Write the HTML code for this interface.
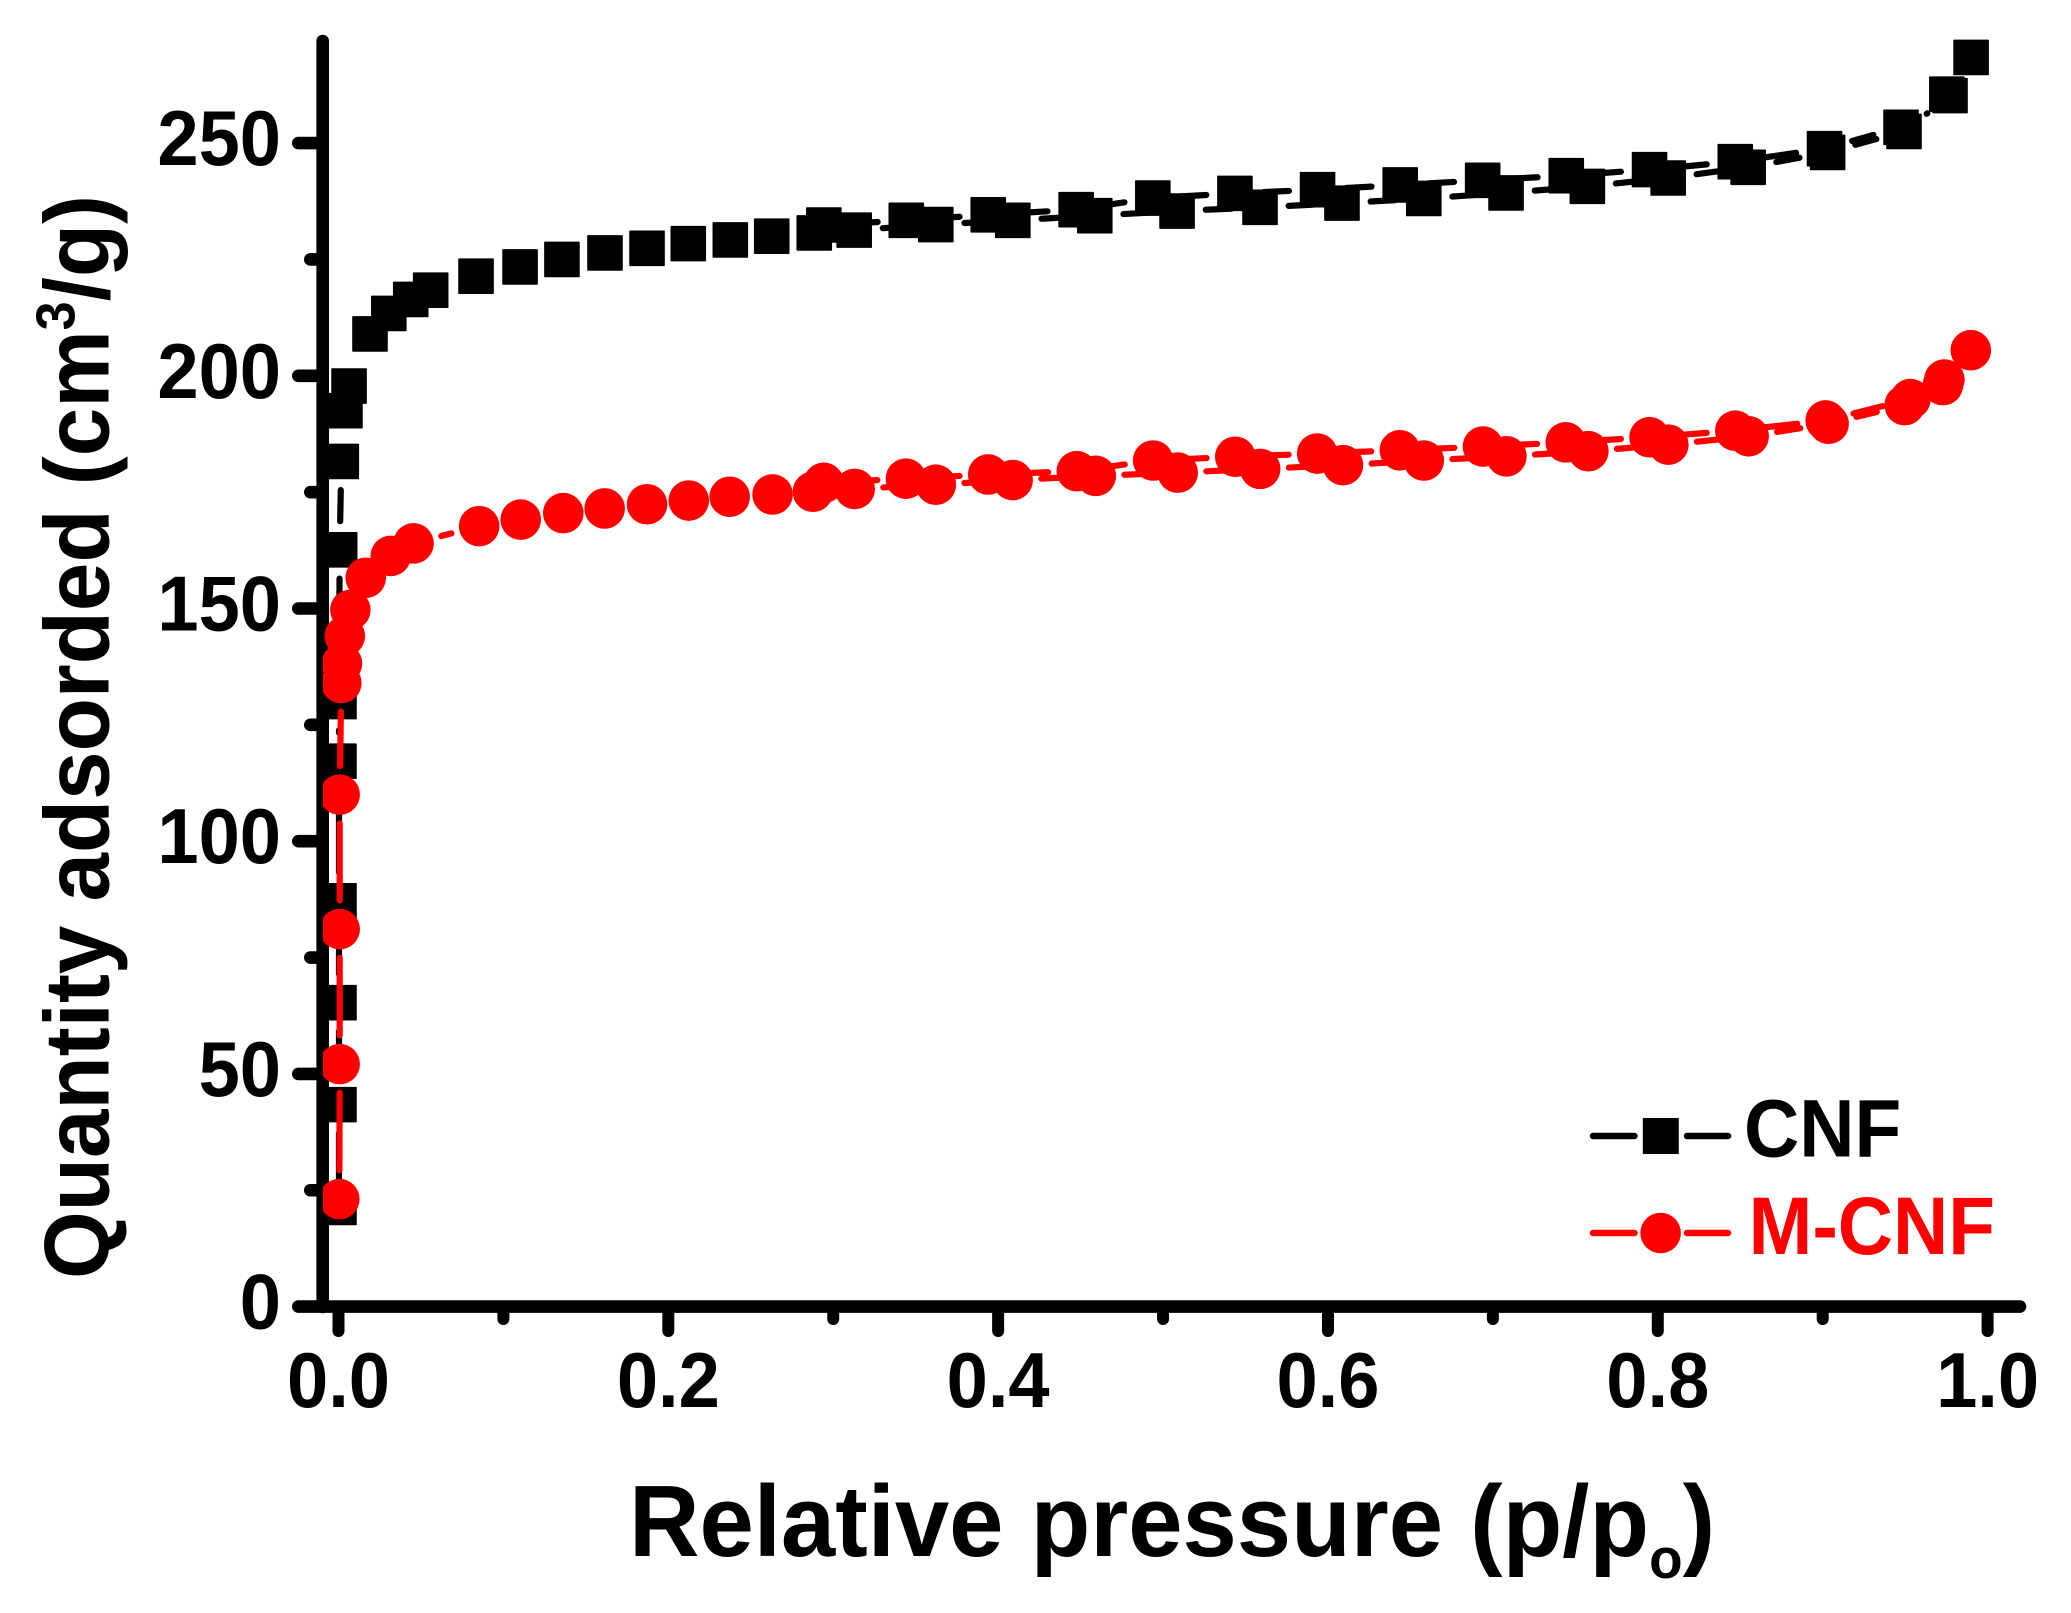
<!DOCTYPE html>
<html lang="en">
<head>
<meta charset="utf-8">
<title>Nitrogen adsorption isotherms of CNF and M-CNF</title>
<style>
  html, body { margin: 0; padding: 0; background: #fff; }
  svg { display: block; }
  text { font-family: "Liberation Sans", Arial, sans-serif; font-weight: bold; }
</style>
</head>
<body>
<svg id="chart" xmlns="http://www.w3.org/2000/svg" width="2071" height="1613" viewBox="0 0 2071 1613">
  <defs>
    <clipPath id="plot-clip"><rect x="323" y="0" width="1748" height="1400"></rect></clipPath>
  </defs>
  <rect x="0" y="0" width="2071" height="1613" fill="#fff"></rect>

  <g id="axes"></g>
  <g id="series" clip-path="url(#plot-clip)"></g>

  <text transform="translate(629 1556) scale(0.962 1)" x="0" y="0" font-size="101.5" fill="#000">Relative pressure (p/p<tspan font-size="57" dy="22">o</tspan><tspan dy="-22">)</tspan></text>

  <text transform="translate(108.5 1279) rotate(-90) scale(0.947 1)" x="0" y="0" font-size="92" fill="#000">Quantity adsorded (cm<tspan font-size="55" dy="-34">3</tspan><tspan dy="34">/g)</tspan></text>

  <g>
    <g>
      <line x1="1593" y1="1136" x2="1634.5" y2="1136" stroke="#000" stroke-width="6.5" stroke-linecap="round"></line>
      <rect x="1642.8" y="1118" width="36" height="36" fill="#000"></rect>
      <line x1="1687" y1="1136" x2="1728" y2="1136" stroke="#000" stroke-width="6.5" stroke-linecap="round"></line>
      <text transform="translate(1744 1156.5) scale(0.94 1)" x="0" y="0" font-size="81.4" fill="#000">CNF</text>
    </g>
    <g>
      <line x1="1593" y1="1233" x2="1634.5" y2="1233" stroke="#f00" stroke-width="6.5" stroke-linecap="round"></line>
      <circle cx="1660.6" cy="1233" r="20.3" fill="#f00"></circle>
      <line x1="1687" y1="1233" x2="1728" y2="1233" stroke="#f00" stroke-width="6.5" stroke-linecap="round"></line>
      <text transform="translate(1748.6 1254) scale(0.94 1)" x="0" y="0" font-size="81.4" fill="#f00">M-CNF</text>
    </g>
  </g>
</svg>

<script>
// Tick values and labels
const xMajorTicks = [0, 0.2, 0.4, 0.6, 0.8, 1.0];
const xMinorTicks = [0.1, 0.3, 0.5, 0.7, 0.9];
const xTickLabels = ["0.0", "0.2", "0.4", "0.6", "0.8", "1.0"];
const yMajorTicks = [0, 50, 100, 150, 200, 250];
const yMinorTicks = [25, 75, 125, 175, 225];
const yTickLabels = ["0", "50", "100", "150", "200", "250"];

// CNF: adsorption branch, then desorption branch
const cnfPressure = [
  0.0003, 0.0003, 0.0003, 0.0003, 0.0003, 0.0003, 0.0007, 0.0017, 0.0039, 0.0064,
  0.0191, 0.0305, 0.0438, 0.0559, 0.0834, 0.1101, 0.1355, 0.1616, 0.1871, 0.2121,
  0.2376, 0.2627, 0.2885, 0.3127, 0.3622, 0.4089, 0.4586, 0.5085, 0.5588, 0.6085,
  0.6581, 0.7080, 0.7573, 0.8063, 0.8548, 0.9030, 0.9493, 0.9772, 0.9900,
  0.9753, 0.9475, 0.9011, 0.8470, 0.7950, 0.7445, 0.6938, 0.6438, 0.5937, 0.5436,
  0.4938, 0.4473, 0.3940, 0.3443, 0.2943
];
const cnfQuantity = [
  21.3, 43.4, 65.3, 87.2, 117.2, 130, 162.6, 181.6, 192.5, 197.8,
  209, 213.4, 216.4, 218.4, 221.4, 223.4, 225, 226.4, 227.4, 228.4,
  229.2, 230, 230.7, 231.3, 232.5, 233.4, 234.4, 235.4, 236.2, 237.1,
  238.1, 239.3, 240.7, 242.5, 244.8, 248, 252.5, 260.2, 268.4,
  260.5, 253.4, 248.8, 246, 244.3, 243, 242, 241, 240, 239.2,
  238.2, 235.7, 234.6, 233.4, 232.4
];

// M-CNF: adsorption branch, then desorption branch
const mcnfPressure = [
  0.0005, 0.0007, 0.0007, 0.0007, 0.0017, 0.0021, 0.0038, 0.0072, 0.0165, 0.0317,
  0.0455, 0.0853, 0.1105, 0.1363, 0.1614, 0.1871, 0.2124, 0.2372, 0.2632, 0.2877,
  0.3130, 0.3622, 0.4088, 0.4592, 0.5089, 0.5589, 0.6091, 0.6581, 0.7082, 0.7579,
  0.8064, 0.8551, 0.9036, 0.9497, 0.9729, 0.9898,
  0.9738, 0.9532, 0.9018, 0.8470, 0.7950, 0.7442, 0.6940, 0.6436, 0.5935, 0.5438,
  0.4940, 0.4477, 0.3940, 0.3441, 0.2942
];
const mcnfQuantity = [
  23.1, 52.1, 81.1, 110, 134, 138.2, 144.1, 149.7, 156.6, 161.3,
  164, 167.7, 169.1, 170.5, 171.5, 172.4, 173.2, 174, 174.5, 175.1,
  175.7, 176.6, 177.6, 178.5, 179.2, 180, 180.8, 181.8, 182.7, 183.8,
  185.2, 187, 189.7, 193.7, 198, 205.5,
  199.2, 195, 190.4, 188.2, 186.8, 185.7, 184.8, 184, 183.3, 182.6,
  181.8, 179.5, 178.8, 177.9, 177
];

const SVG_NS = "http://www.w3.org/2000/svg";
const xScale = function (p) { return 338.5 + 1649.1 * p; };
const yScale = function (v) { return 1306.6 - 4.654 * v; };

function makeLine(x1, y1, x2, y2, color, width) {
  const el = document.createElementNS(SVG_NS, "line");
  el.setAttribute("x1", x1);
  el.setAttribute("y1", y1);
  el.setAttribute("x2", x2);
  el.setAttribute("y2", y2);
  el.setAttribute("stroke", color);
  el.setAttribute("stroke-width", width);
  el.setAttribute("stroke-linecap", "round");
  return el;
}

function makeLabel(str, x, y, anchor) {
  const el = document.createElementNS(SVG_NS, "text");
  el.setAttribute("transform", "translate(" + x + " " + y + ") scale(0.95 1)");
  el.setAttribute("x", 0);
  el.setAttribute("y", 0);
  el.setAttribute("font-size", "78");
  el.setAttribute("fill", "#000");
  el.setAttribute("text-anchor", anchor);
  el.textContent = str;
  return el;
}

const axes = document.getElementById("axes");

const yAxisLine = makeLine(322.7, 41, 322.7, 1307, "#000", 12.6);


axes.appendChild(yAxisLine);

const xAxisLine = makeLine(322.7, 1306.6, 2020, 1306.6, "#000", 12.6);


axes.appendChild(xAxisLine);

yMajorTicks.forEach(function (v, i) {
  const tick = makeLine(298.3, yScale(v), 322, yScale(v), "#000", 12.6);
  
  
  axes.appendChild(tick);
  const label = makeLabel(yTickLabels[i], 281, yScale(v) + 22, "end");
  
  
  axes.appendChild(label);
});

yMinorTicks.forEach(function (v) {
  const tick = makeLine(310.3, yScale(v), 322, yScale(v), "#000", 12.6);
  
  
  axes.appendChild(tick);
});

xMajorTicks.forEach(function (p, i) {
  const tick = makeLine(xScale(p), 1307, xScale(p), 1331, "#000", 12);
  
  
  axes.appendChild(tick);
  const label = makeLabel(xTickLabels[i], xScale(p), 1407, "middle");
  
  
  axes.appendChild(label);
});

xMinorTicks.forEach(function (p) {
  const tick = makeLine(xScale(p), 1307, xScale(p), 1319, "#000", 12);
  
  
  axes.appendChild(tick);
});

const seriesLayer = document.getElementById("series");
const LINE_GAP = 28.7;

function drawSegments(group, xs, ys, color) {
  for (let i = 0; i + 1 < xs.length; i++) {
    const ax = xScale(xs[i]);
    const ay = yScale(ys[i]);
    const bx = xScale(xs[i + 1]);
    const by = yScale(ys[i + 1]);
    const len = Math.hypot(bx - ax, by - ay);
    if (len <= 2 * LINE_GAP) continue;
    const ux = (bx - ax) / len;
    const uy = (by - ay) / len;
    const seg = makeLine(ax + ux * LINE_GAP, ay + uy * LINE_GAP, bx - ux * LINE_GAP, by - uy * LINE_GAP, color, 6.2);
    
    
    group.appendChild(seg);
  }
}

const cnfGroup = document.createElementNS(SVG_NS, "g");


seriesLayer.appendChild(cnfGroup);
drawSegments(cnfGroup, cnfPressure, cnfQuantity, "#000");
cnfPressure.forEach(function (p, i) {
  const mark = document.createElementNS(SVG_NS, "rect");
  mark.setAttribute("x", xScale(p) - 17.8);
  mark.setAttribute("y", yScale(cnfQuantity[i]) - 17.8);
  mark.setAttribute("width", 35.6);
  mark.setAttribute("height", 35.6);
  mark.setAttribute("rx", 0.8);
  mark.setAttribute("fill", "#000");
  
  
  cnfGroup.appendChild(mark);
});

const mcnfGroup = document.createElementNS(SVG_NS, "g");


seriesLayer.appendChild(mcnfGroup);
drawSegments(mcnfGroup, mcnfPressure, mcnfQuantity, "#f00");
mcnfPressure.forEach(function (p, i) {
  const mark = document.createElementNS(SVG_NS, "circle");
  mark.setAttribute("cx", xScale(p));
  mark.setAttribute("cy", yScale(mcnfQuantity[i]));
  mark.setAttribute("r", 20.3);
  mark.setAttribute("fill", "#f00");
  
  
  mcnfGroup.appendChild(mark);
});
</script>
</body>
</html>
